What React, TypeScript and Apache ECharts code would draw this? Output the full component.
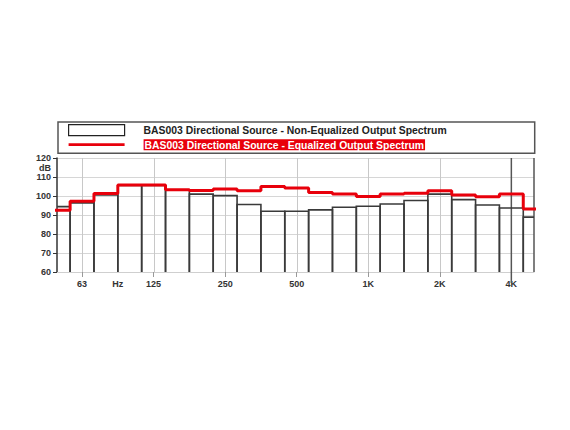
import React, { useEffect, useRef } from "react";
import * as echarts from "echarts";

// Third-octave bands 50 Hz ... 5 kHz (position = third-octave steps relative to 1 kHz)
const bandLabels = ["50", "63", "80", "100", "125", "160", "200", "250", "315", "400", "500", "630", "800", "1K", "1.25K", "1.6K", "2K", "2.5K", "3.15K", "4K", "5K"];
const bandPos = [-13, -12, -11, -10, -9, -8, -7, -6, -5, -4, -3, -2, -1, 0, 1, 2, 3, 4, 5, 6, 7];
const nonEqualized = [94.4, 96.4, 100.5, 105.5, 105.5, 103.0, 101.0, 100.2, 95.5, 92.0, 92.0, 92.7, 94.1, 94.6, 95.8, 97.6, 101.0, 98.1, 95.3, 93.7, 88.9];
const equalized = [92.5, 97.3, 101.3, 105.8, 105.8, 103.3, 102.9, 103.7, 102.8, 105.0, 104.2, 101.9, 101.0, 99.8, 101.0, 101.4, 102.8, 100.5, 99.6, 101.0, 93.2];

const xTickPos = [-12, -9, -6, -3, 0, 3, 6];
const xTickLabels = ["63", "125", "250", "500", "1K", "2K", "4K"];
const unitPos = -10.5;
const unitLabel = "Hz";
const cursorPos = 6;

const yTicks = [60, 70, 80, 90, 100, 110, 120];
const yUnitPos = 115;
const yUnitLabel = "dB";

const nameNonEq = "BAS003 Directional Source - Non-Equalized Output Spectrum";
const nameEq = "BAS003 Directional Source - Equalized Output Spectrum";

const X_MIN = -13.05;
const X_MAX = 6.95;

export default function App() {
  const ref = useRef<HTMLDivElement>(null);
  useEffect(() => {
    document.body.style.margin = "0";
    const chart = echarts.init(ref.current!, undefined, { renderer: "svg" });
    const font = "'Liberation Sans', Arial, sans-serif";

    const barData = bandPos.map((p, i) => [p, nonEqualized[i]]);
    const stepData: number[][] = bandPos.map((p, i) => [p - 0.5, equalized[i]]);
    stepData.push([bandPos[bandPos.length - 1] + 0.5, equalized[equalized.length - 1]]);

    const xLabelValues = [...xTickPos, unitPos];
    const xLabelMap: Record<string, string> = {};
    xTickPos.forEach((v, i) => (xLabelMap[String(v)] = xTickLabels[i]));
    xLabelMap[String(unitPos)] = unitLabel;

    const lightLines = xTickPos.filter((v) => v !== cursorPos).map((v) => [v, 90]);
    const darkLines = [[cursorPos, 90], [X_MAX, 90]];

    const vLineSeries = (name: string, data: number[][], dark: boolean) => ({
      name,
      type: "custom",
      z: 2,
      silent: true,
      clip: false,
      data,
      renderItem: (params: any, api: any) => {
        const x = api.value(0);
        const top = api.coord([x, 120]);
        const bottom = api.coord([x, 60]);
        const px = dark ? top[0] : Math.round(top[0]) + 0.5;
        const ext = dark && x === cursorPos ? 11 : 0;
        return {
          type: "line",
          shape: { x1: px, y1: top[1], x2: px, y2: bottom[1] + ext },
          style: dark ? { stroke: "#555", lineWidth: 1.5 } : { stroke: "#c8c8c8", lineWidth: 1 },
        };
      },
    });

    chart.setOption({
      animation: false,
      backgroundColor: "#fff",
      textStyle: { fontFamily: font },
      legend: {
        left: 58,
        top: 122,
        orient: "vertical",
        padding: [2, 88, 3, 10],
        borderColor: "#555",
        borderWidth: 1.5,
        itemGap: 3,
        itemWidth: 56,
        itemHeight: 11,
        selectedMode: false,
        textStyle: {
          fontFamily: font,
          fontSize: 10.4,
          fontWeight: "bold",
          color: "#222",
          rich: {
            s: { width: 14 },
            n: { fontFamily: font, fontSize: 10.4, fontWeight: "bold", color: "#222" },
            r: {
              fontFamily: font,
              fontSize: 10.4,
              fontWeight: "bold",
              color: "#fff",
              backgroundColor: "#e8000b",
              padding: [1, 1, 0, 1],
            },
          },
        },
        formatter: (name: string) => (name === nameEq ? "{s|}{r|" + name + "}" : "{s|}{n|" + name + "}"),
        data: [
          { name: nameNonEq, icon: "rect", itemStyle: { color: "#fff", borderColor: "#222", borderWidth: 1.2 } },
          { name: nameEq, icon: "path://M0 0H62V3H0Z", itemStyle: { color: "#e8000b", borderWidth: 0 } },
        ],
      },
      grid: { left: 57, right: 36, top: 158, bottom: 158 },
      xAxis: {
        type: "value",
        min: X_MIN,
        max: X_MAX,
        splitLine: { show: false },
        axisLine: { show: true, onZero: false, lineStyle: { color: "#cfcfcf", width: 1 } },
        axisTick: { show: true, customValues: xTickPos, length: 5, lineStyle: { color: "#999", width: 1 } },
        axisLabel: {
          customValues: xLabelValues,
          formatter: (v: number) => xLabelMap[String(v)] ?? "",
          fontSize: 9,
          fontWeight: "bold",
          color: "#333",
          fontFamily: font,
          margin: 7,
        },
      },
      yAxis: {
        type: "value",
        min: 60,
        max: 120,
        interval: 10,
        splitLine: { show: true, lineStyle: { color: "#d6d6d6", width: 1 } },
        axisLine: { show: true, onZero: false, lineStyle: { color: "#333", width: 1.5 } },
        axisTick: { show: true, customValues: yTicks, length: 4, lineStyle: { color: "#333", width: 1 } },
        axisLabel: {
          customValues: [...yTicks, yUnitPos],
          formatter: (v: number) => (v === yUnitPos ? yUnitLabel : String(v)),
          fontSize: 9,
          fontWeight: "bold",
          color: "#333",
          fontFamily: font,
          margin: 6,
        },
      },
      series: [
        vLineSeries("gridlines", lightLines, false),
        vLineSeries("cursor", darkLines, true),
        {
          name: nameNonEq,
          type: "custom",
          z: 3,
          clip: true,
          data: barData,
          renderItem: (params: any, api: any) => {
            const c = api.value(0);
            const v = api.value(1);
            const bl = api.coord([c - 0.5, 60]);
            const tl = api.coord([c - 0.5, v]);
            const tr = api.coord([c + 0.5, v]);
            const br = api.coord([c + 0.5, 60]);
            return {
              type: "polyline",
              shape: { points: [bl, tl, tr, br] },
              style: { stroke: "#3a3a3a", lineWidth: 1.6, fill: "none" },
            };
          },
        },
        {
          name: nameEq,
          type: "line",
          z: 4,
          step: "end",
          symbol: "none",
          data: stepData,
          lineStyle: { color: "#e8000b", width: 3 },
          itemStyle: { color: "#e8000b" },
        },
      ],
    });
    return () => chart.dispose();
  }, []);
  return <div ref={ref} style={{ width: 570, height: 430 }} />;
}
